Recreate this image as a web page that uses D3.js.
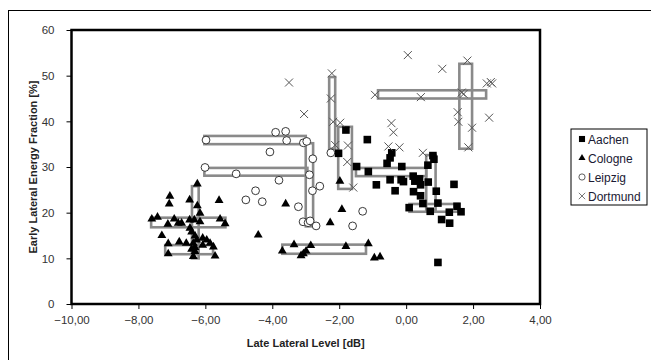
<!DOCTYPE html>
<html>
<head>
<meta charset="utf-8">
<script src="https://cdn.jsdelivr.net/npm/d3@7"></script>
<style>
  body { margin: 0; background: #fff; }
  svg { display: block; font-family: Arial, "Liberation Sans", sans-serif; }
</style>
</head>
<body>
<svg id="chart" width="651" height="360"></svg>
<script>
// values: [late lateral level dB, early lateral energy fraction %]
const aachen = [
  [-1.80, 38.1], [-1.16, 36.0], [-2.02, 33.0], [-1.48, 30.1], [-1.13, 29.0], [-0.89, 26.1],
  [-0.43, 33.1], [-0.48, 32.0], [-0.57, 30.8], [-0.48, 27.2], [-0.33, 24.8], [-0.13, 30.1],
  [-0.15, 27.2], [-0.08, 26.8], [0.21, 28.0], [0.26, 26.9], [0.22, 24.6], [0.40, 27.4],
  [0.43, 26.1], [0.43, 23.7], [0.66, 26.7], [0.65, 30.4], [0.80, 32.5], [0.83, 31.7],
  [0.90, 24.7], [1.43, 26.2], [0.09, 21.1], [0.50, 22.0], [0.72, 20.3], [0.95, 22.1],
  [1.06, 18.5], [1.29, 20.1], [1.30, 17.7], [1.52, 21.4], [1.64, 20.2], [0.95, 9.1]
];
const cologne = [
  [-7.60, 18.6], [-7.43, 19.0], [-7.06, 23.6], [-7.08, 21.9], [-7.30, 15.0], [-7.12, 17.5],
  [-6.93, 18.6], [-7.11, 13.2], [-7.11, 11.0], [-6.78, 13.6], [-6.81, 17.7], [-6.71, 17.7],
  [-6.57, 13.3], [-6.47, 22.8], [-6.47, 18.4], [-6.24, 26.3], [-6.24, 21.5], [-6.16, 19.9],
  [-6.33, 18.4], [-6.16, 18.0], [-6.46, 16.6], [-6.41, 15.8], [-6.31, 14.9], [-6.26, 14.0],
  [-6.36, 13.3], [-6.31, 12.4], [-6.41, 12.0], [-6.31, 11.5], [-6.36, 10.4], [-6.08, 14.4],
  [-5.96, 14.0], [-5.86, 13.3], [-5.76, 12.5], [-5.71, 10.5], [-5.59, 22.7], [-5.56, 18.6],
  [-5.41, 17.6], [-6.08, 12.9],
  [-3.60, 21.9], [-4.42, 15.1], [-1.92, 20.7], [-2.27, 17.8], [-1.98, 26.9], [-3.70, 11.6],
  [-3.35, 13.0], [-2.85, 12.8], [-3.14, 10.6], [-3.07, 11.0], [-2.99, 11.6], [-1.80, 12.6],
  [-1.13, 13.2], [-0.95, 10.1], [-0.78, 10.3]
];
const leipzig = [
  [-5.98, 35.9], [-3.90, 37.6], [-3.60, 37.8], [-3.57, 35.8], [-4.07, 33.3], [-3.07, 35.3],
  [-2.97, 35.6], [-2.79, 31.8], [-2.25, 33.1], [-6.01, 29.9], [-5.08, 28.5], [-3.80, 27.1],
  [-2.89, 28.3], [-2.80, 24.8], [-2.58, 25.8], [-4.50, 24.8], [-4.79, 22.8], [-4.30, 22.4],
  [-3.22, 21.3], [-3.08, 18.0], [-2.93, 17.8], [-2.87, 18.2], [-2.69, 17.1], [-1.30, 20.3],
  [-1.60, 17.1]
];
const dortmund = [
  [-3.50, 48.5], [-3.05, 41.6], [-2.22, 50.5], [-2.25, 45.0], [-2.18, 39.9], [-1.97, 39.7],
  [-2.12, 34.8], [-1.74, 34.7], [-1.76, 31.1], [-1.58, 25.5], [0.05, 54.5], [1.08, 51.5],
  [1.83, 53.3], [-0.93, 45.8], [0.44, 45.3], [1.66, 46.3], [1.72, 46.0], [2.41, 48.3],
  [2.53, 48.6], [2.57, 48.3], [1.54, 42.0], [1.56, 39.9], [1.97, 38.6], [1.86, 34.3],
  [2.48, 40.8], [-0.44, 39.6], [-0.38, 37.6], [-0.53, 34.5], [-0.20, 34.3], [0.50, 33.1]
];
// range boxes: [x0, x1, y0, y1]
const ranges = [
  [-6.40, -6.20, 10.0, 25.8], [-7.62, -5.40, 16.8, 18.9], [-7.20, -5.77, 10.9, 12.9],
  [-3.70, -1.20, 11.0, 13.0],
  [-6.03, -3.00, 35.0, 36.8], [-6.03, -2.95, 28.1, 29.8], [-3.00, -2.78, 17.0, 35.2],
  [-2.30, -2.12, 34.0, 49.7], [-2.03, -1.62, 25.2, 38.8], [-1.50, 0.60, 28.0, 29.8],
  [0.60, 0.88, 20.5, 32.6], [0.10, 1.56, 20.2, 21.9], [-0.84, 2.39, 45.0, 46.8],
  [1.59, 1.97, 34.0, 52.6]
];
const xTicks = [-10, -8, -6, -4, -2, 0, 2, 4];
const yTicks = [0, 10, 20, 30, 40, 50, 60];
const seriesNames = ['Aachen', 'Cologne', 'Leipzig', 'Dortmund'];

const svg = d3.select('#chart');
const plot = { left: 71.5, right: 540, top: 30, bottom: 304 };

const x = d3.scaleLinear().domain([-10, 4]).range([plot.left, plot.right]);
const y = d3.scaleLinear().domain([0, 60]).range([plot.bottom, plot.top]);

// outer frame
svg.append('rect')
  .attr('x', 8.5).attr('y', 10.5).attr('width', 660).attr('height', 360)
  .attr('fill', 'none').attr('stroke', '#000').attr('stroke-width', 1);

// axes
const fmt = (d) => d3.format('.2f')(d).replace('.', ',');
const xAxis = svg.append('g')
  .attr('transform', `translate(0,${plot.bottom})`)
  .call(d3.axisBottom(x).tickValues(xTicks).tickSize(5).tickSizeOuter(0).tickFormat(fmt));
const yAxis = svg.append('g')
  .attr('transform', `translate(${plot.left},0)`)
  .call(d3.axisLeft(y).tickValues(yTicks).tickSize(5).tickSizeOuter(0));

[xAxis, yAxis].forEach((g) => {
  g.select('.domain').remove();
  g.selectAll('line').attr('stroke', '#000');
  g.selectAll('text').attr('fill', '#333').attr('font-size', 11.5);
});
xAxis.selectAll('text').attr('dy', '1.05em');
yAxis.selectAll('text').attr('x', -17);

// range boxes
svg.append('g')
  .selectAll('rect')
  .data(ranges)
  .join('rect')
  .attr('x', (d) => x(d[0]))
  .attr('y', (d) => y(d[3]))
  .attr('width', (d) => x(d[1]) - x(d[0]))
  .attr('height', (d) => y(d[2]) - y(d[3]))
  .attr('fill', 'none')
  .attr('stroke', '#8a8a8a')
  .attr('stroke-width', 2.6);

// markers
const tri = d3.symbol().type(d3.symbolTriangle).size(34);
const cross = 'M-4,-4L4,4M-4,4L4,-4';

function square(g) {
  g.append('rect').attr('x', -3.8).attr('y', -3.8).attr('width', 7.6).attr('height', 7.6).attr('fill', '#000');
}
function triangle(g) {
  g.append('path').attr('d', tri()).attr('fill', '#000');
}
function circle(g) {
  g.append('circle').attr('r', 3.9).attr('fill', '#fff').attr('stroke', '#222').attr('stroke-width', 0.9);
}
function xmark(g) {
  g.append('path').attr('d', cross).attr('fill', 'none').attr('stroke', '#555').attr('stroke-width', 1);
}

const series = [
  { data: aachen, draw: square },
  { data: cologne, draw: triangle },
  { data: leipzig, draw: circle },
  { data: dortmund, draw: xmark }
];

series.forEach((s) => {
  svg.append('g')
    .selectAll('g')
    .data(s.data)
    .join('g')
    .attr('transform', (d) => `translate(${x(d[0])},${y(d[1])})`)
    .each(function () { s.draw(d3.select(this)); });
});

// plot frame
svg.append('rect')
  .attr('x', plot.left).attr('y', plot.top)
  .attr('width', plot.right - plot.left).attr('height', plot.bottom - plot.top)
  .attr('fill', 'none').attr('stroke', '#000').attr('stroke-width', 2.5);

// axis titles
svg.append('text')
  .attr('x', (plot.left + plot.right) / 2).attr('y', 347)
  .attr('text-anchor', 'middle').attr('font-size', 11).attr('font-weight', 'bold').attr('fill', '#222')
  .text('Late Lateral Level [dB]');
svg.append('text')
  .attr('transform', `translate(37,${(plot.top + plot.bottom) / 2}) rotate(-90)`)
  .attr('text-anchor', 'middle').attr('font-size', 11).attr('font-weight', 'bold').attr('fill', '#222')
  .text('Early Lateral Energy Fraction [%]');

// legend
const legend = svg.append('g').attr('transform', 'translate(571,129)');
legend.append('rect')
  .attr('width', 76).attr('height', 76)
  .attr('fill', '#fff').attr('stroke', '#000').attr('stroke-width', 1);
const legendMarks = [square, triangle, circle, xmark];
seriesNames.forEach((name, i) => {
  const row = legend.append('g').attr('transform', `translate(0,${10 + i * 19})`);
  const m = row.append('g').attr('transform', 'translate(11,0) scale(0.8)');
  legendMarks[i](m);
  row.append('text')
    .attr('x', 17).attr('y', 4.5)
    .attr('font-size', 12).attr('fill', '#1a1a33')
    .text(name);
});
</script>
</body>
</html>
